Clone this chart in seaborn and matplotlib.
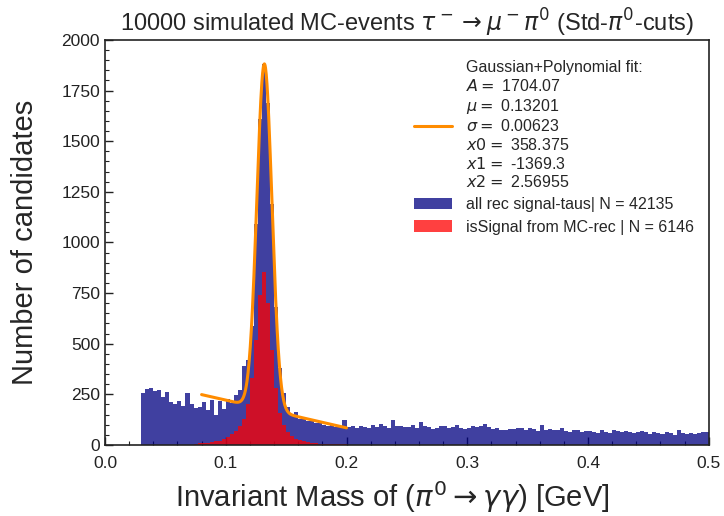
import numpy as np
import pandas as pd
import matplotlib
matplotlib.use("Agg")
import matplotlib.pyplot as plt
from matplotlib.patches import Patch
from matplotlib.lines import Line2D
from matplotlib.ticker import MultipleLocator
import seaborn as sns

# ---- data ----
bin_lo, bin_hi, n_bins = 0.03, 0.5, 141

all_counts = [
    255, 275, 280, 265, 270, 235, 262, 210, 200, 215,
    195, 255, 200, 185, 190, 210, 175, 220, 150, 215,
    180, 225, 205, 245, 270, 390, 420, 590, 1090, 1610,
    1880, 1690, 1190, 680, 380, 255, 190, 150, 165, 130,
    140, 120, 125, 110, 118, 100, 95, 105, 90, 95,
    122, 88, 92, 85, 95, 90, 84, 98, 88, 104,
    92, 86, 122, 95, 92, 88, 90, 98, 84, 112,
    96, 90, 80, 86, 92, 94, 82, 90, 100, 86,
    78, 84, 96, 88, 92, 104, 90, 80, 84, 74,
    72, 80, 78, 84, 86, 76, 82, 78, 70, 100,
    74, 78, 72, 76, 82, 70, 66, 72, 74, 62,
    68, 70, 64, 58, 72, 66, 60, 74, 68, 62,
    70, 64, 58, 66, 70, 62, 56, 64, 60, 54,
    62, 58, 50, 76, 60, 56, 58, 54, 60, 62,
    66,
]

signal_counts = [
    0, 0, 0, 0, 0, 0, 0, 0, 0, 0,
    0, 0, 0, 5, 8, 10, 12, 15, 18, 22,
    30, 40, 55, 70, 95, 130, 200, 330, 520, 740,
    855, 700, 470, 280, 160, 100, 65, 45, 32, 25,
    18, 14, 11, 9, 7, 6, 5, 4, 4, 3,
    3,
]
signal_counts = signal_counts + [0] * (n_bins - len(signal_counts))

fit_names = ["A", "mu", "sigma", "x0", "x1", "x2"]
fit_values = [1704.07, 0.13201, 0.00623, 358.375, -1369.3, 2.56955]
fit_range = [0.08, 0.20]

label_all = "all rec signal-taus| N = 42135"
label_sig = "isSignal from MC-rec | N = 6146"
fit_label = ("Gaussian+Polynomial fit:\n"
             "$A=$ 1704.07\n"
             "$\\mu=$ 0.13201\n"
             "$\\sigma=$ 0.00623\n"
             "$x0=$ 358.375\n"
             "$x1=$ -1369.3\n"
             "$x2=$ 2.56955")

# ---- build tables ----
edges = np.linspace(bin_lo, bin_hi, n_bins + 1)
centers = 0.5 * (edges[:-1] + edges[1:])
df = pd.DataFrame({"mass": centers, "all": all_counts, "sig": signal_counts})

A, mu, sig, x0, x1, x2 = fit_values
xf = np.linspace(fit_range[0], fit_range[1], 400)
yf = A * np.exp(-(xf - mu) ** 2 / (2 * sig ** 2)) + x0 + x1 * xf + x2 * xf ** 2
fit_df = pd.DataFrame({"mass": xf, "fit": yf})

# ---- plot ----
sns.set_style("white")
plt.rcParams["font.family"] = ["Liberation Sans", "DejaVu Sans"]
plt.rcParams["mathtext.fontset"] = "dejavusans"

fig = plt.figure(figsize=(7.24, 5.16), dpi=100)
ax = fig.add_axes([0.145, 0.1376, 0.834, 0.785])

blue = "navy"
red = "red"
sns.histplot(data=df, x="mass", weights="all", bins=n_bins,
             binrange=(bin_lo, bin_hi), element="step",
             fill=True, color=blue, alpha=0.75, linewidth=0, ax=ax)
sns.histplot(data=df, x="mass", weights="sig", bins=n_bins,
             binrange=(bin_lo, bin_hi), element="step",
             fill=True, color=red, alpha=0.75, linewidth=0, ax=ax)
sns.lineplot(data=fit_df, x="mass", y="fit", color="darkorange", linewidth=2.2,
             ax=ax)

ax.set_xlim(0, 0.5)
ax.set_ylim(0, 2000)
ax.xaxis.set_major_locator(MultipleLocator(0.1))
ax.xaxis.set_minor_locator(MultipleLocator(0.02))
ax.yaxis.set_major_locator(MultipleLocator(250))
ax.yaxis.set_minor_locator(MultipleLocator(50))
ax.tick_params(which="both", direction="in", colors="#222222", labelsize=12.5,
               bottom=True, left=True, top=False, right=False)
ax.tick_params(axis="x", which="both", pad=8)
ax.tick_params(which="major", length=6, width=1)
ax.tick_params(which="minor", length=3, width=0.8)
for s in ax.spines.values():
    s.set_color("#222222")
    s.set_linewidth(1.2)

ax.set_title("10000 simulated MC-events $\\tau^-\\rightarrow\\mu^-\\pi^0$ (Std-$\\pi^0$-cuts)",
             fontsize=17, pad=6)
ax.set_xlabel("Invariant Mass of ($\\pi^0\\rightarrow\\gamma\\gamma$) [GeV]", fontsize=21)
ax.xaxis.set_label_coords(0.475, -0.085)
ax.set_ylabel("Number of candidates", fontsize=21)
ax.yaxis.set_label_coords(-0.11, 0.5)

handles = [
    Line2D([0], [0], color="darkorange", linewidth=2.2),
    Patch(facecolor=blue, alpha=0.75, edgecolor="none"),
    Patch(facecolor=red, alpha=0.75, edgecolor="none"),
]
ax.legend(handles, [fit_label, label_all, label_sig], loc="upper right",
          frameon=False, fontsize=11.5, handlelength=2.4, labelspacing=0.45,
          handletextpad=0.9, bbox_to_anchor=(1.0, 0.985))

fig.savefig("out.png", dpi=100)
